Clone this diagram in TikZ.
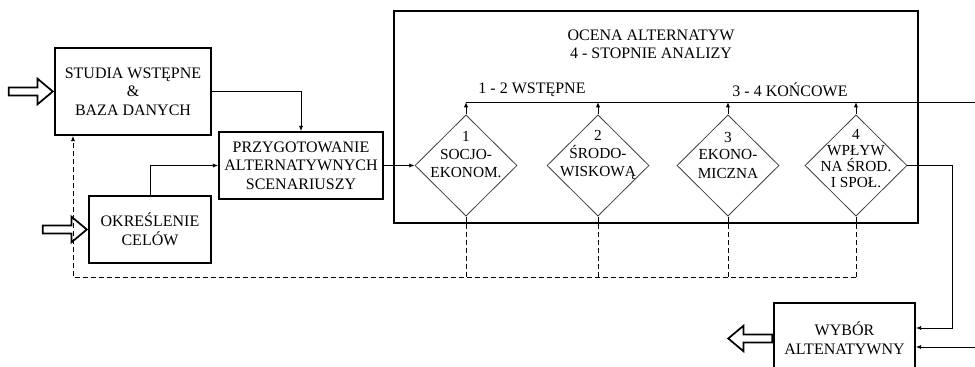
\documentclass[tikz,border=0pt]{standalone}
\usepackage{fontspec}
\setmainfont{Liberation Serif}
\usetikzlibrary{shapes.geometric,shapes.arrows,arrows.meta}

\tikzset{
  blok/.style={draw, line width=1.3pt, align=center, inner sep=0pt, font=\fontsize{12}{14}\selectfont},
  romb/.style={diamond, draw=black!75, line width=0.6pt, inner sep=0pt, minimum width=76.5pt, minimum height=76pt},
  opis/.style={align=center, inner sep=0pt, font=\fontsize{11.5}{13.5}\selectfont},
  linia/.style={line width=0.7pt},
  strzalka/.style={linia, -{Latex[length=4pt,width=3.2pt]}},
  przerywana/.style={linia, dash pattern=on 3.5pt off 2.5pt},
  wejscie/.style={single arrow, draw, line width=1.3pt, fill=white, inner sep=0pt, inner ysep=2.4pt,
    single arrow head extend=6.5pt, single arrow tip angle=80, minimum height=33pt}
}

\begin{document}
\begin{tikzpicture}[x=0.75pt, y=-0.75pt]
	\useasboundingbox (0,0) rectangle (975,367);
	% bloki po lewej
	\node[blok, minimum width=117pt, minimum height=65.25pt] (studia) at (133,91.5) {STUDIA WSTĘPNE\\\&\\BAZA DANYCH};
	\node[blok, minimum width=123pt, minimum height=50.25pt] (przyg) at (301,165.5) {PRZYGOTOWANIE\\ALTERNATYWNYCH\\SCENARIUSZY};
	\node[blok, minimum width=91.5pt, minimum height=50.25pt] (okr) at (150,229.5) {OKREŚLENIE\\CELÓW};
	\node[blok, minimum width=105.75pt, minimum height=53.25pt] (wybor) at (844.5,338.5) {WYBÓR\\ALTENATYWNY};
	% ocena alternatyw
	\node[blok, minimum width=393pt, minimum height=159pt] (ocena) at (656,117) {};
	\node[opis, font=\fontsize{12}{13.5}\selectfont] (tytul) at (651,44) {OCENA ALTERNATYW\\4 - STOPNIE ANALIZY};
	\node[opis, font=\fontsize{12}{14}\selectfont] (etap12) at (532,90) {1 - 2 WSTĘPNE};
	\node[opis, font=\fontsize{12}{14}\selectfont] (etap34) at (790,90) {3 - 4 KOŃCOWE};
	\foreach \x/\n in {466/1,598/2,728/3,856/4}
		\node[romb] (d\n) at (\x,165.5) {};
	\node[opis] (t1) at (466,155) {1\\SOCJO-\\EKONOM.};
	\node[opis] (t2) at (598,155) {2\\ŚRODO-\\WISKOWĄ};
	\node[opis] (t3) at (728,155) {3\\EKONO-\\MICZNA};
	\node[opis, font=\fontsize{11.5}{12}\selectfont] (t4) at (856,159) {4\\WPŁYW\\NA ŚROD.\\I SPOŁ.};
	% wejscia i wyjscie
	\node[wejscie, anchor=tip] (wej1) at (studia.west) {};
	\node[wejscie, anchor=tip] (wej2) at (okr.west) {};
	\node[wejscie, anchor=tail, shape border rotate=180] (wyj) at (wybor.west) {};
	% punkty pomocnicze
	\coordinate (lewy) at (466,102);
	\coordinate (prawy) at (975,102);
	\coordinate (powrot) at (975,347);
	\coordinate (zakret) at (952,328);
	\coordinate (petla) at (73,277);
	% polaczenia
	\draw[strzalka] (studia.east) -| (przyg.north);
	\draw[strzalka] (okr.north) |- (przyg.west);
	\draw[strzalka] (przyg.east) -- (d1.west);
	\draw[linia] (lewy) -- (prawy);
	\foreach \n in {1,...,4} {
		\draw[strzalka] (d\n.north) -- (d\n.north |- lewy);
		\draw[linia] (d\n.south) -- (d\n.south |- ocena.south);
		\draw[przerywana] (d\n.south |- ocena.south) -- (d\n.south |- petla);
	}
	\draw[przerywana, -{Latex[length=4pt,width=3.2pt]}] (d4.south |- petla) -- (petla) -- (petla |- studia.south);
	\draw[strzalka] (d4.east) -| (zakret) -- (zakret -| wybor.east);
	\draw[strzalka] (powrot) -- (powrot -| wybor.east);
\end{tikzpicture}
\end{document}
